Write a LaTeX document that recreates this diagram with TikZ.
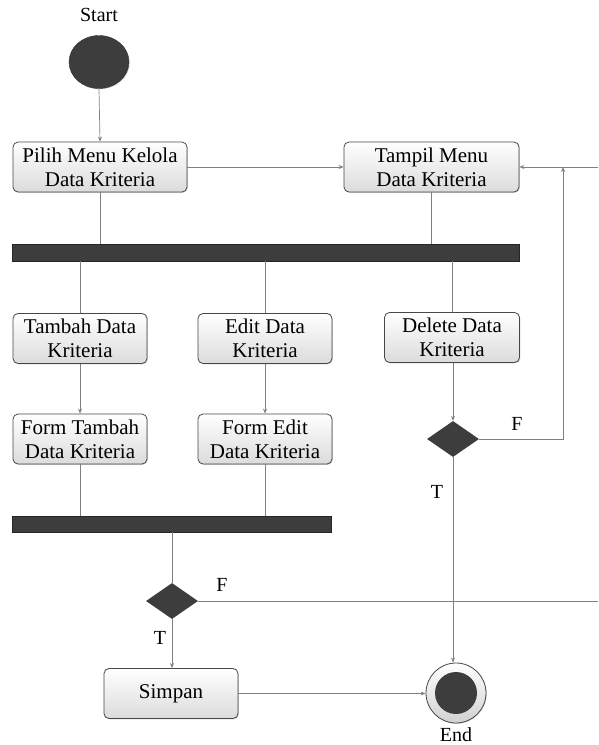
\documentclass[tikz,border=0pt]{standalone}
\usepackage{fontspec}
\setmainfont{Liberation Serif}
\usetikzlibrary{shapes.geometric,arrows.meta,shadows}
\begin{document}
\begin{tikzpicture}[x=1pt,y=-1pt,
  act/.style={draw=black!72, rounded corners=5pt, line width=0.8pt, top color=white, bottom color=black!14,
    minimum width=134pt, minimum height=50pt, align=center, font=\rmfamily\fontsize{21}{24}\selectfont, inner sep=0pt,
    drop shadow={shadow xshift=0.8pt, shadow yshift=-0.8pt, opacity=0.35}},
  bar/.style={fill=black!76, draw=black!85, line width=0.6pt, inner sep=0pt},
  dec/.style={diamond, fill=black!76, minimum width=52pt, minimum height=36pt, inner sep=0pt},
  conn/.style={draw=black!50, line width=0.7pt},
  arr/.style={conn, -{Stealth[length=5pt,width=4pt]}},
  lbl/.style={font=\rmfamily\fontsize{20}{22}\selectfont, inner sep=0pt}]
\useasboundingbox (0,0) rectangle (598,745);

% labels
\node[lbl] (startlbl) at (99,15) {Start};
\node[ellipse, fill=black!76, draw=black!80, minimum width=60pt, minimum height=53pt, inner sep=0pt,
  drop shadow={shadow xshift=0.8pt, shadow yshift=-0.8pt, opacity=0.3}] (start) at (99,62) {};

\node[act, minimum width=174pt] (pilih) at (100,167) {Pilih Menu Kelola\\Data Kriteria};
\node[act, minimum width=175pt] (tampil) at (431.5,167) {Tampil Menu\\Data Kriteria};

\node[bar, minimum width=507pt, minimum height=17pt] (bar1) at (265.5,252.5) {};

\node[act] (tambah) at (80,338.5) {Tambah Data\\Kriteria};
\node[act] (edit) at (265,338.5) {Edit Data\\Kriteria};
\node[act, minimum width=135pt] (delete) at (452,337.5) {Delete Data\\Kriteria};

\node[act] (ftambah) at (80,439) {Form Tambah\\Data Kriteria};
\node[act] (fedit) at (265,439) {Form Edit\\Data Kriteria};

\node[dec] (dec1) at (453,439) {};
\node[bar, minimum width=319pt, minimum height=16pt] (bar2) at (171.5,524) {};
\node[dec] (dec2) at (172,601) {};

\node[act] (simpan) at (171,693.5) {Simpan};

\node[circle, minimum size=60pt, inner sep=0pt, draw=black!72, line width=0.8pt, top color=white, bottom color=black!18,
  drop shadow={shadow xshift=0.8pt, shadow yshift=-0.8pt, opacity=0.3}] (endo) at (456,693) {};
\node[circle, minimum size=42pt, inner sep=0pt, fill=black!76] (endi) at (456,693) {};
\node[lbl] (endlbl) at (456,735) {End};

\node[lbl] (f1) at (517,424) {F};
\node[lbl] (t1) at (437,492) {T};
\node[lbl] (f2) at (222,585) {F};
\node[lbl] (t2) at (160,638) {T};

\coordinate (rin) at (598,167);
\coordinate (loopc) at (563,439);
\coordinate (rout) at (598,601);

% connectors
\draw[arr] (start.south) -- (pilih.north);
\draw[arr] (pilih.east) -- (tampil.east -| tampil.west);
\draw[conn] (pilih.south) -- (pilih.south |- bar1.north);
\draw[conn] (tampil.south) -- (tampil.south |- bar1.north);
\draw[conn] (bar1.south -| tambah.north) -- (tambah.north);
\draw[conn] (bar1.south -| edit.north) -- (edit.north);
\draw[conn] (bar1.south -| delete.north) -- (delete.north);
\draw[arr] (tambah.south) -- (ftambah.north);
\draw[arr] (edit.south) -- (fedit.north);
\draw[arr] (delete.south -| dec1.north) -- (dec1.north);
\draw[arr] (dec1.east) -- (loopc) -- (loopc |- tampil.east);
\draw[arr] (rin) -- (tampil.east);
\draw[arr] (dec1.south) -- (dec1.south |- endo.north);
\draw[conn] (ftambah.south) -- (ftambah.south |- bar2.north);
\draw[conn] (fedit.south) -- (fedit.south |- bar2.north);
\draw[conn] (bar2.south -| dec2.north) -- (dec2.north);
\draw[conn] (dec2.east) -- (rout);
\draw[arr] (dec2.south) -- (simpan.north -| dec2.south);
\draw[arr] (simpan.east) -- (endo.west |- simpan.east);
\end{tikzpicture}
\end{document}
